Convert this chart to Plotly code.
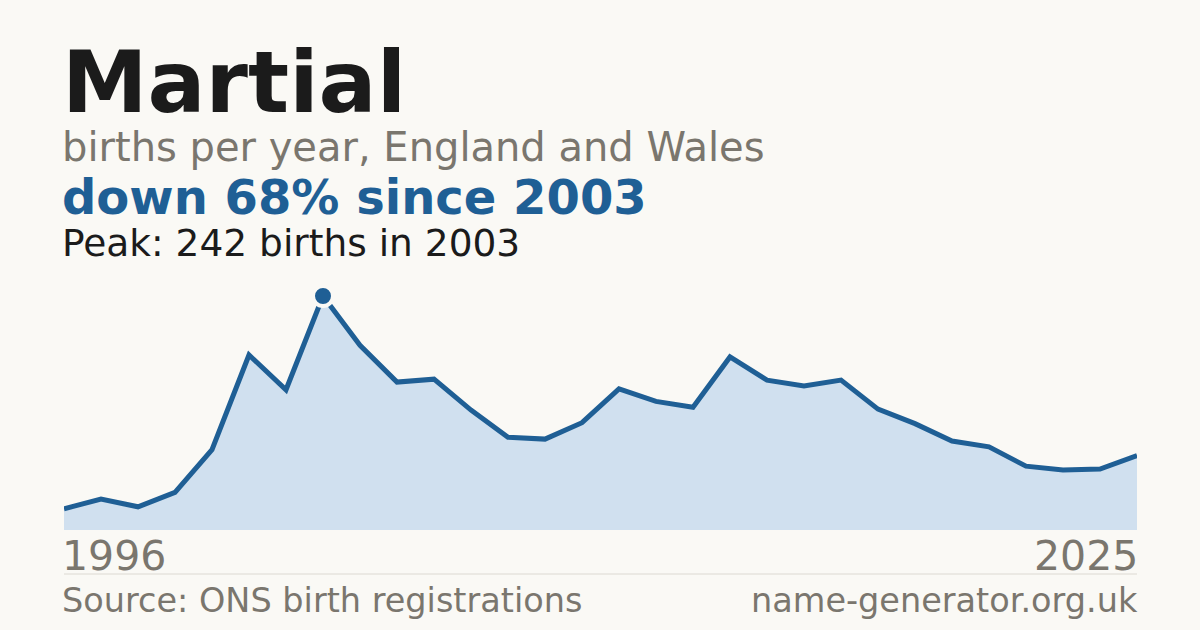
import plotly.graph_objects as go

# births per year, 1996-2025
years = list(range(1996, 2026))
births = [22, 32, 24, 39, 83, 181, 145, 242, 191, 153,
          156, 124, 96, 94, 111, 146, 133, 127, 179, 155,
          149, 155, 125, 110, 92, 86, 66, 62, 63, 77]

peak_year = 2003
peak_value = 242

W, H = 1200, 630
BG = '#faf9f5'
BLUE = '#1f5f95'
GREY = '#7a766e'
INK = '#1b1b1b'
FONT = 'DejaVu Sans'

def px(x):
    return x / W

def py(y):
    return 1 - y / H

fig = go.Figure()
fig.add_trace(go.Scatter(x=years, y=births,
                         mode='lines',
                         line=dict(color=BLUE, width=5),
                         fill='tozeroy',
                         fillcolor='#d0e0ef',
                         hoverinfo='x+y'))
fig.add_trace(go.Scatter(x=[peak_year], y=[peak_value],
                         mode='markers',
                         marker=dict(symbol='circle', size=20, color=BLUE,
                                     line=dict(color=BG, width=4)),
                         cliponaxis=False,
                         hoverinfo='x+y'))

def label(text, x, y, size, color, bold=False, anchor='left'):
    return dict(text='<b>%s</b>' % text if bold else text,
                x=px(x), y=py(y), xref='paper', yref='paper',
                xanchor=anchor, yanchor='middle', showarrow=False,
                font=dict(family=FONT, size=size, color=color))

annotations = [
    label('Martial', 60, 82, 86, INK, bold=True),
    label('births per year, England and Wales', 60, 147, 40, GREY),
    label('down 68% since 2003', 60, 197, 48, BLUE, bold=True),
    label('Peak: 242 births in 2003', 60, 243, 37.5, INK),
    label('1996', 60, 556, 41, GREY),
    label('2025', 1140, 556, 41, GREY, anchor='right'),
    label('Source: ONS birth registrations', 60, 600, 33.5, GREY),
    label('name-generator.org.uk', 1140, 600, 33.5, GREY, anchor='right'),
]

fig.update_layout(width=W, height=H,
                  margin=dict(l=0, r=0, t=0, b=0),
                  paper_bgcolor=BG, plot_bgcolor=BG,
                  showlegend=False,
                  annotations=annotations,
                  shapes=[dict(type='line', xref='paper', yref='paper',
                               x0=px(64), x1=px(1137), y0=py(574), y1=py(574),
                               line=dict(color='#dcd9d2', width=1))],
                  xaxis=dict(domain=[px(64), px(1137)], range=[1996, 2025],
                             visible=False, fixedrange=True),
                  yaxis=dict(domain=[py(530), py(296)], range=[0, peak_value],
                             visible=False, fixedrange=True))

fig.write_html('out.html',
               config={'displayModeBar': False},
               post_script="document.body.style.margin='0';"
                           "document.body.style.background='%s';" % BG)
